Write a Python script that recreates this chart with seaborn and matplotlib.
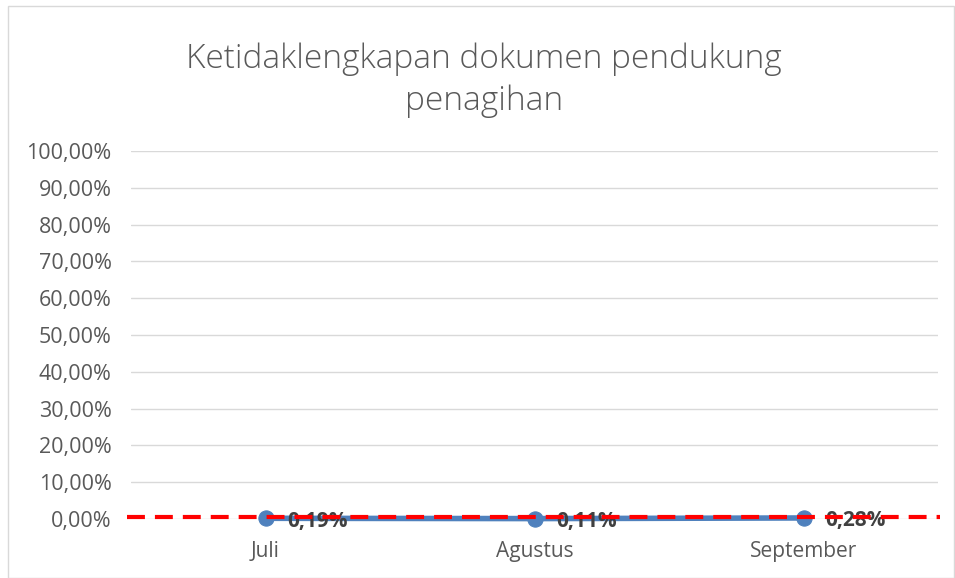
import matplotlib
matplotlib.use("Agg")
import matplotlib.pyplot as plt
import seaborn as sns
import pandas as pd
from matplotlib.ticker import FuncFormatter, MultipleLocator

months = ["Juli", "Agustus", "September"]
values = [0.0019, 0.0011, 0.0028]
labels = ["0,19%", "0,11%", "0,28%"]
target = 0.005

sns.set_theme(style="white")
plt.rcParams['font.family'] = ['Open Sans', 'DejaVu Sans']

df = pd.DataFrame({"month": months, "value": values})

fig = plt.figure(figsize=(9.55, 5.78), dpi=100)
ax = fig.add_axes([131/955, 1-519/578, 807/955, 368/578])

sns.lineplot(data=df, x="month", y="value", ax=ax, color="#4F81BD", linewidth=4,
             marker="o", markersize=11, markeredgecolor="#4F81BD", sort=False, zorder=3,
             clip_on=False)
ax.axhline(target, color="#FF0000", linestyle=(0, (4.3, 2.4)), linewidth=3, zorder=6,
           xmin=-0.005, xmax=1.003, clip_on=False)

for i, (v, lab) in enumerate(zip(values, labels)):
    ax.annotate(lab, (i, v), xytext=(16, -2), textcoords="offset points",
                ha="left", va="center", fontsize=15, fontweight="bold", color="#404040", zorder=5,
                annotation_clip=False)

ax.set_xlim(-0.5, 2.5)
ax.set_ylim(0, 1.0)
ax.yaxis.set_major_locator(MultipleLocator(0.1))
ax.yaxis.set_major_formatter(FuncFormatter(lambda v, p: f"{v*100:.2f}%".replace(".", ",")))
ax.grid(axis="y", color="#D9D9D9", linewidth=1)
ax.set_axisbelow(True)
for s in ax.spines.values():
    s.set_visible(False)
ax.tick_params(axis="both", length=0, colors="#595959")
ax.tick_params(axis="x", pad=16, labelsize=15)
ax.tick_params(axis="y", pad=14, labelsize=15.5)
ax.set_xlabel("")
ax.set_ylabel("")

fig.text(484/955, 1-59/578, "Ketidaklengkapan dokumen pendukung", ha="center", va="center",
         fontsize=24, color="#595959", fontweight="light")
fig.text(484/955, 1-101/578, "penagihan", ha="center", va="center",
         fontsize=24, color="#595959", fontweight="light")

border = plt.Rectangle((8/955, 0), 946/955, 1-6/578, transform=fig.transFigure, fill=False,
                       edgecolor="#D9D9D9", linewidth=1)
fig.patches.append(border)

fig.savefig("out.png", dpi=100, facecolor="white")
